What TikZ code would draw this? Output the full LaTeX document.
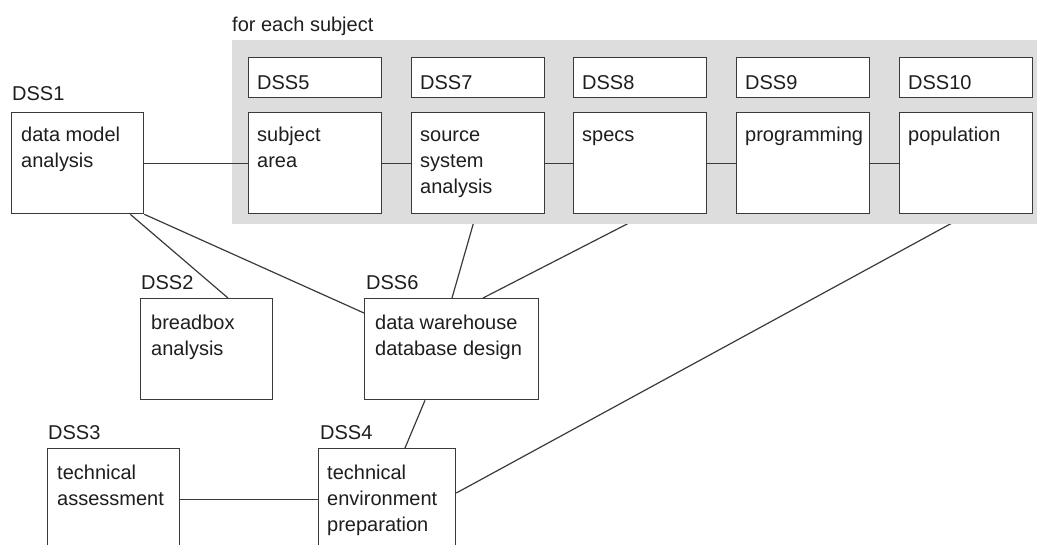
\documentclass[tikz,border=0pt]{standalone}
\usepackage{fontspec}
\setmainfont{Liberation Sans}
\usetikzlibrary{calc}
\definecolor{ink}{HTML}{1E1E1E}
\definecolor{edge}{HTML}{3A3A3A}
\definecolor{panel}{HTML}{DDDDDD}
\pgfdeclarelayer{under}
\pgfdeclarelayer{panellayer}
\pgfsetlayers{under,panellayer,main}
\newcommand{\firstln}{\rule{0pt}{15pt}}
\begin{document}
\begin{tikzpicture}[x=1pt,y=-1pt,
  font=\fontsize{20}{26}\selectfont,
  box/.style={draw=edge, line width=1.3pt, fill=white, rectangle, inner sep=0pt, anchor=north west},
  bigbox/.style={box, minimum height=101pt},
  tagbox/.style={box, minimum height=40pt, minimum width=133pt},
  txt/.style={text=ink, inner sep=0pt, align=left, anchor=base west},
  body/.style={text=ink, inner sep=0pt, align=left, anchor=north west},
  conn/.style={draw=edge, line width=1.2pt}]
\useasboundingbox (0,0) rectangle (1037,544);
% panel
\begin{pgfonlayer}{panellayer}
\fill[panel] (232,40) rectangle (1037,224);
\end{pgfonlayer}
\node[txt] (fes) at (232,31) {for each subject};
% left boxes
\node[bigbox, minimum width=132pt] (b1) at (11,112) {};
\node[txt] (l1) at (12,100) {DSS1};
\node[body] (t1) at ($(b1.north west)+(10,14)$) {\firstln data model\\analysis};
\node[bigbox, minimum width=132pt] (b2) at (140,298) {};
\node[txt] (l2) at (141,289) {DSS2};
\node[body] (t2) at ($(b2.north west)+(11,16)$) {\firstln breadbox\\analysis};
\node[bigbox, minimum width=174pt] (b6) at (364,298) {};
\node[txt] (l6) at (366,289) {DSS6};
\node[body] (t6) at ($(b6.north west)+(11,16)$) {\firstln data warehouse\\database design};
\node[bigbox, minimum width=132pt] (b3) at (47,448) {};
\node[txt] (l3) at (48,439) {DSS3};
\node[body] (t3) at ($(b3.north west)+(10,16)$) {\firstln technical\\assessment};
\node[bigbox, minimum width=137pt] (b4) at (318,448) {};
\node[txt] (l4) at (320,439) {DSS4};
\node[body] (t4) at ($(b4.north west)+(9,16)$) {\firstln technical\\environment\\preparation};
% subject boxes
\foreach \n/\x/\lab/\body in {5/248/DSS5/{subject\\area}, 7/411/DSS7/{source\\system\\analysis}, 8/573/DSS8/{specs}, 9/736/DSS9/{programming}, 10/899/DSS10/{population}}{
  \node[tagbox] (g\n) at (\x,57) {};
  \node[txt] (gl\n) at ($(g\n.north west)+(9,32)$) {\lab};
  \node[bigbox, minimum width=133pt] (s\n) at (\x,112) {};
  \node[body] (st\n) at ($(s\n.north west)+(9,14)$) {\firstln\body};
}
% connectors inside panel
\draw[conn] (b1.east) -- (s5.west);
\draw[conn] (s5.east) -- (s7.west);
\draw[conn] (s7.east) -- (s8.west);
\draw[conn] (s8.east) -- (s9.west);
\draw[conn] (s9.east) -- (s10.west);
% connectors below
\begin{pgfonlayer}{under}
\draw[conn] ($(s7.south west)+(65,0)$) -- ($(b6.north west)+(88,0)$);
\draw[conn] ($(s8.south west)+(73,0)$) -- ($(b6.north west)+(119,0)$);
\draw[conn] ($(s10.south west)+(69,0)$) -- ($(b4.north east)+(0,45)$);
\end{pgfonlayer}
\draw[conn] ($(b1.south east)+(-14,0)$) -- ($(b2.north west)+(88,0)$);
\draw[conn] (b1.south east) -- ($(b6.north west)+(0,15)$);
\draw[conn] ($(b6.south west)+(61,0)$) -- ($(b4.north west)+(87,0)$);
\draw[conn] (b3.east) -- (b4.west);
\end{tikzpicture}
\end{document}
